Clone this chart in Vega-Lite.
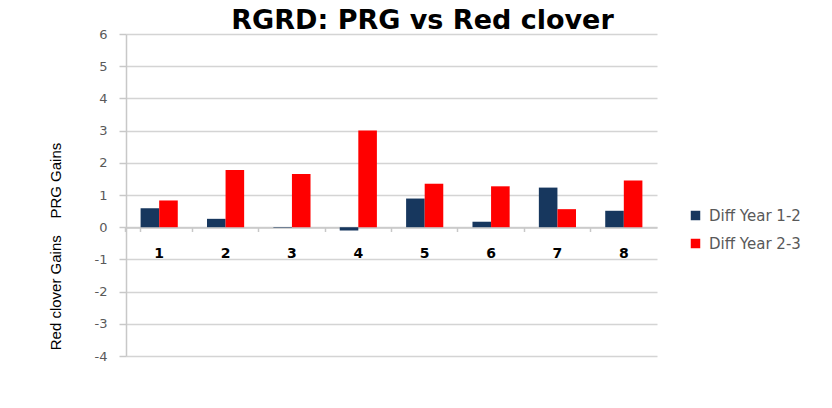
{
  "$schema": "https://vega.github.io/schema/vega-lite/v6.json",
  "width": 531,
  "height": 322,
  "autosize": "none",
  "padding": {"left": 126, "top": 34, "right": 175, "bottom": 52},
  "background": "white",
  "title": {
    "text": "RGRD: PRG vs Red clover",
    "font": "DejaVu Sans",
    "fontSize": 27,
    "fontWeight": "bold",
    "color": "#000000",
    "frame": "group",
    "anchor": "middle",
    "baseline": "alphabetic",
    "offset": 3,
    "dx": 31,
    "dy": 31
  },
  "data": {
    "values": [
      {"cat": "1", "series": "Diff Year 1-2", "value": 0.59},
      {"cat": "1", "series": "Diff Year 2-3", "value": 0.83},
      {"cat": "2", "series": "Diff Year 1-2", "value": 0.26},
      {"cat": "2", "series": "Diff Year 2-3", "value": 1.78},
      {"cat": "3", "series": "Diff Year 1-2", "value": -0.02},
      {"cat": "3", "series": "Diff Year 2-3", "value": 1.65},
      {"cat": "4", "series": "Diff Year 1-2", "value": -0.1},
      {"cat": "4", "series": "Diff Year 2-3", "value": 3.0},
      {"cat": "5", "series": "Diff Year 1-2", "value": 0.89},
      {"cat": "5", "series": "Diff Year 2-3", "value": 1.35},
      {"cat": "6", "series": "Diff Year 1-2", "value": 0.17},
      {"cat": "6", "series": "Diff Year 2-3", "value": 1.27},
      {"cat": "7", "series": "Diff Year 1-2", "value": 1.23},
      {"cat": "7", "series": "Diff Year 2-3", "value": 0.56},
      {"cat": "8", "series": "Diff Year 1-2", "value": 0.51},
      {"cat": "8", "series": "Diff Year 2-3", "value": 1.45}
    ]
  },
  "mark": {"type": "bar"},
  "encoding": {
    "x": {
      "field": "cat",
      "type": "nominal",
      "sort": ["1", "2", "3", "4", "5", "6", "7", "8"],
      "scale": {"paddingInner": 0.44, "paddingOuter": 0.22},
      "axis": {
        "title": null,
        "orient": "bottom",
        "offset": -128.5,
        "labelAngle": 0,
        "labelFont": "DejaVu Sans",
        "labelFontSize": 14,
        "labelFontWeight": "bold",
        "labelColor": "#000000",
        "labelPadding": 15,
        "domainColor": "#c8c8c8",
        "domainWidth": 1.5,
        "tickColor": "#c8c8c8",
        "tickSize": 4,
        "tickWidth": 1.5,
        "bandPosition": -0.393,
        "tickExtra": true,
        "grid": false
      }
    },
    "xOffset": {"field": "series", "type": "nominal"},
    "y": {
      "field": "value",
      "type": "quantitative",
      "scale": {"domain": [-4, 6], "nice": false, "zero": false},
      "axis": {
        "values": [-4, -3, -2, -1, 0, 1, 2, 3, 4, 5, 6],
        "labelExpr": "toString(datum.value)",
        "title": "Red clover Gains\u00a0\u00a0\u00a0\u00a0PRG Gains",
        "titleFont": "Liberation Sans",
        "titleFontSize": 15,
        "titleFontWeight": "normal",
        "titleColor": "#000000",
        "titleAngle": 270,
        "titleAlign": "center",
        "titleBaseline": "alphabetic",
        "titleX": -66,
        "titleY": 212,
        "labelFont": "DejaVu Sans",
        "labelFontSize": 13,
        "labelColor": "#595959",
        "labelPadding": 12,
        "tickSize": 7,
        "tickColor": "#c8c8c8",
        "tickWidth": 1.5,
        "domainColor": "#c8c8c8",
        "domainWidth": 1.5,
        "grid": true,
        "gridColor": "#d4d4d4",
        "gridWidth": 1.5
      }
    },
    "color": {
      "field": "series",
      "type": "nominal",
      "scale": {"domain": ["Diff Year 1-2", "Diff Year 2-3"], "range": ["#17375E", "#FF0000"]},
      "legend": {
        "title": null,
        "orient": "none",
        "legendX": 562,
        "legendY": 174,
        "symbolType": "square",
        "symbolSize": 90,
        "symbolStrokeWidth": 0,
        "labelFont": "DejaVu Sans",
        "labelFontSize": 15,
        "labelColor": "#595959",
        "labelOffset": 6,
        "rowPadding": 12
      }
    }
  },
  "config": {"view": {"stroke": null}}
}
